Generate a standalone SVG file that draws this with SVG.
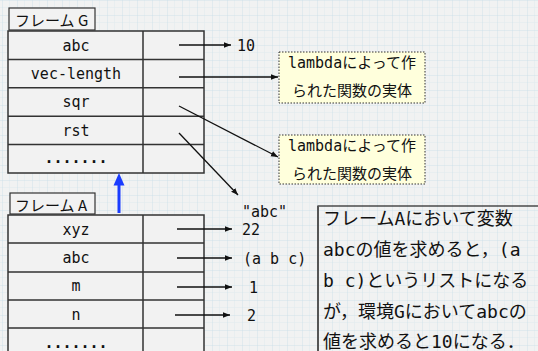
<svg xmlns="http://www.w3.org/2000/svg" width="538" height="351" viewBox="0 0 538 351">
<defs>
<pattern id="grid" x="2" y="0" width="15" height="15" patternUnits="userSpaceOnUse">
<rect width="15" height="15" fill="#f1f2f2"/>
<path d="M7.5 0V15M0 7.5H15" stroke="#e2ebef" stroke-width="0.6"/>
<path d="M0 0V15M0 0H15" stroke="#c9dfea" stroke-width="0.8"/>
</pattern>
<marker id="ah" viewBox="0 0 10 10" refX="10" refY="5" markerWidth="7" markerHeight="7" markerUnits="userSpaceOnUse" orient="auto">
<path d="M0 1L10 5L0 9z" fill="#111"/>
</marker>
<style>
.cell{fill:#f2f2f2;stroke:#333;stroke-width:1.5}
.lbl{fill:#f2f2f2;stroke:#333;stroke-width:1.2}
.mono{font-family:"DejaVu Sans Mono","Noto Sans CJK JP",monospace;font-size:15px;fill:#111}
.jp{font-family:"Noto Sans CJK JP",sans-serif;font-size:15px;fill:#111}
.note{font-family:"DejaVu Sans Mono","Noto Sans CJK JP",monospace;font-size:18px;fill:#111}
.lam{fill:#ffffdc;stroke:#333;stroke-width:1;stroke-dasharray:1.5 1.5}
.c{stroke:#111;stroke-width:1.3;fill:none;marker-end:url(#ah)}
</style>
</defs>
<rect width="538" height="351" fill="url(#grid)"/>

<g id="frameG">
<rect class="lbl" x="9" y="8" width="86" height="22"/>
<text class="jp" x="15" y="26">フレーム G</text>
<rect class="cell" x="8" y="31" width="196" height="142"/>
<path d="M143 31V173M8 59.4H204M8 87.8H204M8 116.2H204M8 144.6H204" stroke="#333" stroke-width="1.5"/>
<g class="mono" text-anchor="middle">
<text x="76" y="51">abc</text>
<text x="76" y="79">vec-length</text>
<text x="76" y="107">sqr</text>
<text x="76" y="136">rst</text>
<text x="76" y="163" font-weight="bold">.......</text>
</g>
</g>

<g id="frameA">
<rect class="lbl" x="10" y="193" width="85" height="21"/>
<text class="jp" x="15" y="211">フレーム A</text>
<rect class="cell" x="8" y="215" width="196" height="145"/>
<path d="M143 215V360M8 243H204M8 272H204M8 300H204M8 328H204" stroke="#333" stroke-width="1.5"/>
<g class="mono" text-anchor="middle">
<text x="76" y="235">xyz</text>
<text x="76" y="263">abc</text>
<text x="76" y="291">m</text>
<text x="76" y="320">n</text>
<text x="76" y="348" font-weight="bold">.......</text>
</g>
</g>

<g id="lambda1">
<rect class="lam" x="279" y="52" width="146" height="51"/>
<text class="mono" x="352" y="68" text-anchor="middle">lambdaによって作</text>
<text class="mono" x="352" y="96" text-anchor="middle">られた関数の実体</text>
</g>
<g id="lambda2">
<rect class="lam" x="279" y="135" width="146" height="49"/>
<text class="mono" x="352" y="151" text-anchor="middle">lambdaによって作</text>
<text class="mono" x="352" y="179" text-anchor="middle">られた関数の実体</text>
</g>

<g id="values" class="mono">
<text x="237" y="51">10</text>
<text x="242" y="217">"abc"</text>
<text x="242" y="235">22</text>
<text x="243" y="264">(a b c)</text>
<text x="249" y="293">1</text>
<text x="247" y="321">2</text>
</g>

<g id="note">
<rect x="318" y="206" width="230" height="160" fill="none" stroke="#222" stroke-width="1.2"/>
<line x1="318" y1="206" x2="318" y2="351" stroke="#555" stroke-width="2"/>
<g class="note">
<text x="323" y="225">フレームAにおいて変数</text>
<text x="323" y="256">abcの値を求めると，(a</text>
<text x="323" y="287">b c)というリストになる</text>
<text x="323" y="318">が，環境Gにおいてabcの</text>
<text x="323" y="348">値を求めると10になる．</text>
</g>
</g>

<g id="connectors">
<line class="c" x1="179" y1="45" x2="231" y2="45"/>
<line class="c" x1="179" y1="77" x2="278" y2="77"/>
<line class="c" x1="179" y1="106" x2="278" y2="157"/>
<line class="c" x1="179" y1="133" x2="238" y2="195"/>
<line class="c" x1="177" y1="229" x2="232" y2="229"/>
<line class="c" x1="177" y1="258" x2="232" y2="258"/>
<line class="c" x1="177" y1="287" x2="232" y2="287"/>
<line class="c" x1="175" y1="315" x2="230" y2="315"/>
<line x1="119" y1="213" x2="119" y2="184" stroke="#1a3cff" stroke-width="3"/>
<path d="M113.5 185.5L124.5 185.5L119 173z" fill="#1a3cff"/>
</g>
</svg>
